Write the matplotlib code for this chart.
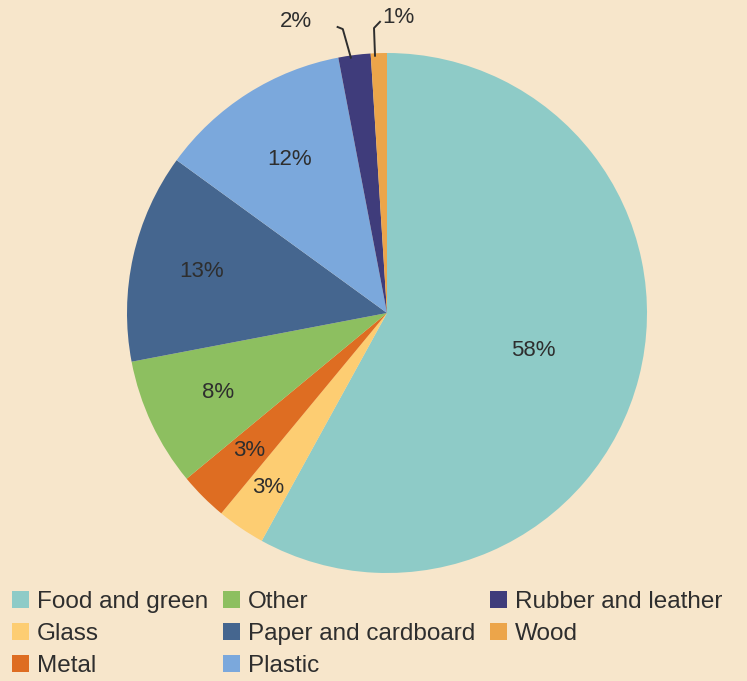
import numpy as np
import matplotlib.pyplot as plt

# Waste composition shares (%)
categories = ["Food and green", "Glass", "Metal", "Other",
              "Paper and cardboard", "Plastic", "Rubber and leather", "Wood"]
shares = [58, 3, 3, 8, 13, 12, 2, 1]
colors = ["#8ecbc7", "#fdcd72", "#de6d22", "#8dbf60",
          "#45668f", "#7ba8dc", "#3f3c7b", "#eca54a"]

# radius at which each percentage label sits (fraction of pie radius)
label_r = [0.58, 0.81, 0.75, 0.72, 0.73, 0.70, None, None]

BG = "#f7e6cb"
TXT = "#2e2e2e"

plt.rcParams['font.family'] = ['Liberation Sans', 'DejaVu Sans']

fig = plt.figure(figsize=(7.47, 6.81), dpi=100, facecolor=BG)
ax = fig.add_axes([127 / 747, 108 / 681, 520 / 747, 520 / 681])
ax.set_facecolor(BG)

wedges, _ = ax.pie(shares, colors=colors, startangle=90, counterclock=False,
                   radius=1.0, wedgeprops=dict(linewidth=0))
ax.set_xlim(-1, 1)
ax.set_ylim(-1, 1)
ax.set_aspect('equal')
ax.axis('off')

for w, val, r in zip(wedges, shares, label_r):
    mid = np.deg2rad((w.theta1 + w.theta2) / 2)
    if r is not None:
        ax.text(r * np.cos(mid), r * np.sin(mid), f"{val}%", ha='center', va='center',
                fontsize=16, color=TXT)

# small slices at the top get leader lines
small = {6: ((-0.17, 1.092), (-0.19, 1.10), (-0.35, 1.12)),
         7: ((-0.05, 1.096), (-0.027, 1.12), (0.045, 1.135))}
for i, (p1, p2, lab) in small.items():
    w = wedges[i]
    mid = np.deg2rad((w.theta1 + w.theta2) / 2)
    x0, y0 = 0.99 * np.cos(mid) - 0.015, 0.99 * np.sin(mid)
    ax.plot([x0, p1[0], p2[0]], [y0, p1[1], p2[1]], color=TXT, lw=1.4, clip_on=False)
    ax.text(lab[0], lab[1], f"{shares[i]}%", ha='center', va='center',
            fontsize=16, color=TXT, clip_on=False)

leg = fig.legend(wedges, categories, ncol=3, loc='upper left',
                 bbox_to_anchor=(12 / 747, 1 - 591 / 681),
                 frameon=False, fontsize=17.5, labelcolor=TXT,
                 handlelength=0.7, handleheight=0.7, handletextpad=0.33,
                 columnspacing=0.6, labelspacing=0.42, borderaxespad=0,
                 borderpad=0)

fig.savefig('out.png', dpi=100, facecolor=BG)
